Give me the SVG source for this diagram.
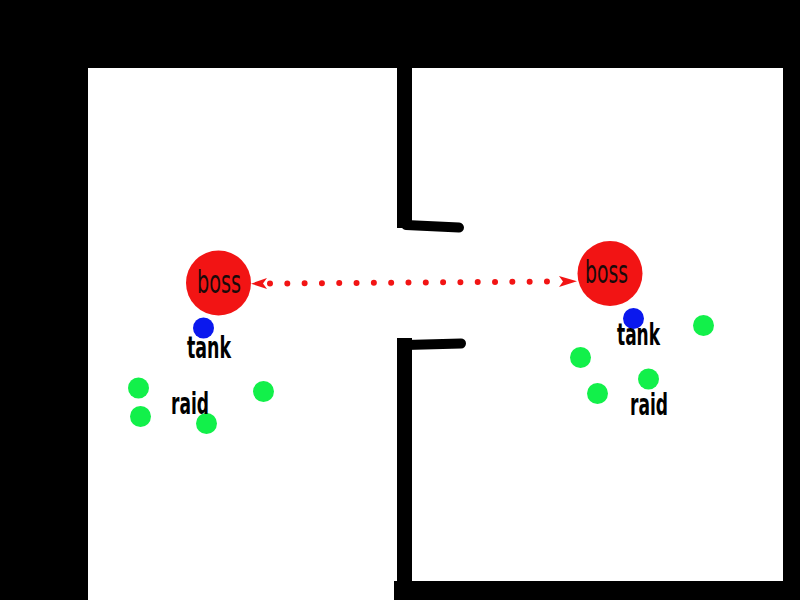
<svg xmlns="http://www.w3.org/2000/svg" width="800" height="600" viewBox="0 0 800 600">
<style>
.wall{fill:#000}
.stub{stroke:#000;stroke-width:10;stroke-linecap:round;fill:none}
.boss{fill:#f21414}
.tank{fill:#0a18ee}
.raid{fill:#12f04a}
.bl{font-family:"Liberation Sans Narrow","DejaVu Sans Condensed","Liberation Sans",sans-serif;font-size:32px;fill:#1a0a0a;text-anchor:middle}
.lb{font-family:"Liberation Sans Narrow","DejaVu Sans Condensed","Liberation Sans",sans-serif;font-size:31px;font-weight:bold;fill:#000;text-anchor:middle}
.dots{stroke:#f21414;stroke-width:6;stroke-linecap:round;stroke-dasharray:0 17.31;fill:none}
</style>
<defs>
<marker id="headS" markerUnits="userSpaceOnUse" markerWidth="40" markerHeight="20" viewBox="-20 -10 40 20" refX="0" refY="0" orient="auto">
<path d="M-19,0 L-3,-5.5 L-7,0 L-3,5.5 Z" fill="#f21414"/>
</marker>
<marker id="headE" markerUnits="userSpaceOnUse" markerWidth="40" markerHeight="20" viewBox="0 -10 40 20" refX="0" refY="0" orient="auto">
<path d="M12,-5.5 L30,0 L12,5.5 L16,0 Z" fill="#f21414"/>
</marker>
</defs>
<rect x="0" y="0" width="800" height="600" fill="#000"/>
<rect x="88" y="68" width="695" height="532" fill="#fff"/>
<g id="walls">
<rect class="wall" x="397" y="60" width="15" height="168"/>
<rect class="wall" x="397" y="338" width="15" height="262"/>
<rect class="wall" x="394" y="581" width="406" height="19"/>
<rect class="wall" x="783" y="60" width="17" height="540"/>
<path class="stub" d="M406,225 L459,227.5"/>
<path class="stub" d="M406,345 L461,343.5"/>
</g>
<g id="connectors">
<path class="dots" d="M270,283.5 L547,281.5" marker-start="url(#headS)" marker-end="url(#headE)"/>
</g>
<g id="boss-left">
<circle class="boss" cx="218.5" cy="283" r="32.5"/>
<text class="bl" x="219" y="293" textLength="44" lengthAdjust="spacingAndGlyphs">boss</text>
</g>
<g id="boss-right">
<circle class="boss" cx="610" cy="273.5" r="32.5"/>
<text class="bl" x="606.5" y="283" textLength="43" lengthAdjust="spacingAndGlyphs">boss</text>
</g>
<g id="tank-left">
<circle class="tank" cx="203.5" cy="328" r="10.5"/>
<text class="lb" x="209" y="358" textLength="44" lengthAdjust="spacingAndGlyphs">tank</text>
</g>
<g id="tank-right">
<circle class="tank" cx="633.5" cy="318.5" r="10.5"/>
<text class="lb" x="638.5" y="345" textLength="43" lengthAdjust="spacingAndGlyphs">tank</text>
</g>
<g id="raid-left">
<circle class="raid" cx="138.5" cy="388" r="10.5"/>
<circle class="raid" cx="140.5" cy="416.5" r="10.5"/>
<circle class="raid" cx="206.5" cy="423.5" r="10.5"/>
<circle class="raid" cx="263.5" cy="391.5" r="10.5"/>
<text class="lb" x="190" y="414" textLength="38" lengthAdjust="spacingAndGlyphs">raid</text>
</g>
<g id="raid-right">
<circle class="raid" cx="703.5" cy="325.5" r="10.5"/>
<circle class="raid" cx="580.5" cy="357.5" r="10.5"/>
<circle class="raid" cx="597.5" cy="393.5" r="10.5"/>
<circle class="raid" cx="648.5" cy="379" r="10.5"/>
<text class="lb" x="649" y="415" textLength="38" lengthAdjust="spacingAndGlyphs">raid</text>
</g>
</svg>
